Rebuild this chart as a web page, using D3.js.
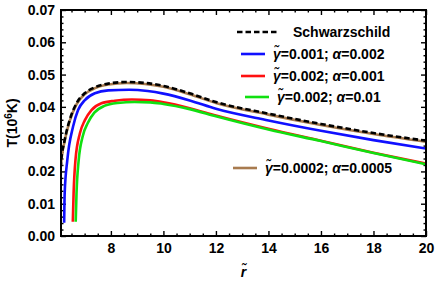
<!DOCTYPE html>
<html>
<head>
<meta charset="utf-8">
<script src="https://cdn.jsdelivr.net/npm/d3@7"></script>
<style>
  body { margin: 0; background: #fff; }
  svg { display: block; font-family: "Liberation Sans", Arial, sans-serif; font-weight: bold; }
</style>
</head>
<body>
<svg></svg>
<script>
// values
const rSchw = [6.0, 6.03, 6.1, 6.24, 6.43, 6.69, 7.0, 7.4, 7.9, 8.6, 9.3, 10.0, 11.0, 12.0, 14.0, 16.0, 18.0, 20.0];
const tSchw = [0, 0.012, 0.0225, 0.0297, 0.0359, 0.0411, 0.0442, 0.0461, 0.0472, 0.0477, 0.0474, 0.0465, 0.0442, 0.0415, 0.0379, 0.0347, 0.0319, 0.0295];

const rBrown = [6.0, 6.03, 6.1, 6.24, 6.43, 6.69, 7.0, 7.4, 7.9, 8.6, 9.3, 10.0, 11.0, 12.0, 14.0, 16.0, 18.0, 20.0];
const tBrown = [0, 0.0118, 0.0222, 0.0294, 0.0356, 0.0408, 0.0439, 0.0458, 0.0469, 0.0474, 0.0471, 0.0462, 0.0439, 0.0412, 0.0376, 0.0344, 0.0316, 0.0292];

const rBlue = [6.22, 6.24, 6.34, 6.56, 6.75, 7.01, 7.39, 7.9, 8.7, 9.4, 10.0, 11.0, 12.0, 14.0, 16.0, 18.0, 20.0];
const tBlue = [0.0041, 0.0132, 0.0235, 0.0339, 0.0390, 0.0421, 0.0442, 0.0451, 0.0453, 0.0449, 0.0441, 0.0420, 0.0394, 0.0358, 0.0326, 0.0297, 0.0271];

const rRed = [6.55, 6.58, 6.65, 6.82, 7.01, 7.26, 7.64, 8.15, 8.8, 9.5, 10.0, 11.0, 12.0, 14.0, 16.0, 18.0, 20.0];
const tRed = [0.0044, 0.0132, 0.0235, 0.0318, 0.0359, 0.0390, 0.0411, 0.0419, 0.0423, 0.0420, 0.0414, 0.0396, 0.0373, 0.0332, 0.0295, 0.0258, 0.0224];

const rGreen = [6.66, 6.69, 6.77, 6.93, 7.12, 7.37, 7.75, 8.25, 8.9, 9.5, 10.0, 11.0, 12.0, 14.0, 16.0, 18.0, 20.0];
const tGreen = [0.0044, 0.0130, 0.0232, 0.0310, 0.0350, 0.0382, 0.0403, 0.0412, 0.0415, 0.0414, 0.0409, 0.0393, 0.0371, 0.0330, 0.0294, 0.0257, 0.0222];

const xTicks = [8, 10, 12, 14, 16, 18, 20];
const yTicks = [0, 0.01, 0.02, 0.03, 0.04, 0.05, 0.06, 0.07];

const width = 436, height = 284;
const margin = { left: 61, right: 426, top: 10, bottom: 236 };

const svg = d3.select('svg').attr('width', width).attr('height', height);

const x = d3.scaleLinear().domain([6.1, 20]).range([margin.left, margin.right]);
const y = d3.scaleLinear().domain([0, 0.07]).range([margin.bottom, margin.top]);

// clip curves to the frame
svg.append('clipPath').attr('id', 'clip')
  .append('rect').attr('x', margin.left).attr('y', margin.top)
  .attr('width', margin.right - margin.left).attr('height', margin.bottom - margin.top);

// minor ticks
const xMinor = d3.range(6.5, 20.01, 0.5).filter(v => !xTicks.includes(v));
const yMinor = d3.range(0.002, 0.07, 0.002).filter(v => Math.abs(v * 100 - Math.round(v * 100)) > 1e-6);

function tickAxis(axis, tx, ty) {
  const g = svg.append('g').attr('transform', `translate(${tx},${ty})`).call(axis);
  g.select('.domain').remove();
  g.selectAll('line').attr('stroke', '#000').attr('stroke-width', 1.4);
  g.selectAll('text').attr('font-size', 14).attr('font-weight', 'bold')
    .attr('font-family', '"Liberation Sans", Arial, sans-serif').attr('fill', '#000');
  return g;
}

tickAxis(d3.axisBottom(x).tickValues(xTicks).tickSize(-5).tickPadding(7).tickFormat(d3.format('d')), 0, margin.bottom);
tickAxis(d3.axisBottom(x).tickValues(xMinor).tickSize(-2.5).tickFormat(''), 0, margin.bottom);
tickAxis(d3.axisTop(x).tickValues(xTicks).tickSize(-5).tickFormat(''), 0, margin.top);
tickAxis(d3.axisTop(x).tickValues(xMinor).tickSize(-2.5).tickFormat(''), 0, margin.top);

tickAxis(d3.axisLeft(y).tickValues(yTicks).tickSize(-5).tickPadding(6).tickFormat(d3.format('.2f')), margin.left, 0);
tickAxis(d3.axisLeft(y).tickValues(yMinor).tickSize(-2.5).tickFormat(''), margin.left, 0);
tickAxis(d3.axisRight(y).tickValues(yTicks).tickSize(-5).tickFormat(''), margin.right, 0);
tickAxis(d3.axisRight(y).tickValues(yMinor).tickSize(-2.5).tickFormat(''), margin.right, 0);

// curves
const line = d3.line().x(d => x(d[0])).y(d => y(d[1])).curve(d3.curveMonotoneX);
const zip = (a, b) => a.map((v, i) => [v, b[i]]);

const curves = svg.append('g').attr('clip-path', 'url(#clip)');
const series = [
  { r: rBrown, t: tBrown, color: '#a87b4f', dash: null },
  { r: rBlue, t: tBlue, color: '#1010ff', dash: null },
  { r: rRed, t: tRed, color: '#ff1010', dash: null },
  { r: rGreen, t: tGreen, color: '#10e010', dash: null },
  { r: rSchw, t: tSchw, color: '#000', dash: '5.5,3' },
];
series.forEach(s => {
  curves.append('path')
    .attr('d', line(zip(s.r, s.t)))
    .attr('fill', 'none')
    .attr('stroke', s.color)
    .attr('stroke-width', 2.6)
    .attr('stroke-dasharray', s.dash);
});

// frame
svg.append('rect')
  .attr('x', margin.left).attr('y', margin.top)
  .attr('width', margin.right - margin.left).attr('height', margin.bottom - margin.top)
  .attr('fill', 'none').attr('stroke', '#000').attr('stroke-width', 2);

// legend
const legend = [
  { x1: 237, x2: 278, ly: 32, tx: 293, color: '#000', dash: '5.5,3', g: null, a: null, label: 'Schwarzschild' },
  { x1: 241, x2: 265, ly: 54, tx: 273, color: '#1010ff', dash: null, g: '0.001', a: '0.002' },
  { x1: 241, x2: 265, ly: 76, tx: 273, color: '#ff1010', dash: null, g: '0.002', a: '0.001' },
  { x1: 245, x2: 269, ly: 97, tx: 277, color: '#10e010', dash: null, g: '0.002', a: '0.01' },
  { x1: 233, x2: 257, ly: 168, tx: 265, color: '#a87b4f', dash: null, g: '0.0002', a: '0.0005' },
];
legend.forEach(l => {
  svg.append('line')
    .attr('x1', l.x1).attr('x2', l.x2).attr('y1', l.ly).attr('y2', l.ly)
    .attr('stroke', l.color).attr('stroke-width', 2.6)
    .attr('stroke-dasharray', l.dash);
  const t = svg.append('text').attr('x', l.tx).attr('y', l.ly + 5).attr('font-size', 14);
  if (l.label) {
    t.text(l.label);
  } else {
    t.append('tspan').attr('font-style', 'italic').text('\u03B3\u0303');
    t.append('tspan').text('=' + l.g + '; ');
    t.append('tspan').attr('font-style', 'italic').text('\u03B1');
    t.append('tspan').text('=' + l.a);
  }
});

// axis labels
svg.append('text')
  .attr('x', (margin.left + margin.right) / 2).attr('y', 277)
  .attr('text-anchor', 'middle').attr('font-size', 14).attr('font-style', 'italic')
  .text('r\u0303');

const yl = svg.append('text')
  .attr('transform', `translate(17,${(margin.top + margin.bottom) / 2}) rotate(-90)`)
  .attr('text-anchor', 'middle').attr('font-size', 14);
yl.append('tspan').text('T(10');
yl.append('tspan').attr('font-size', 10).attr('dy', -5).text('6');
yl.append('tspan').attr('dy', 5).text('K)');
</script>
</body>
</html>
